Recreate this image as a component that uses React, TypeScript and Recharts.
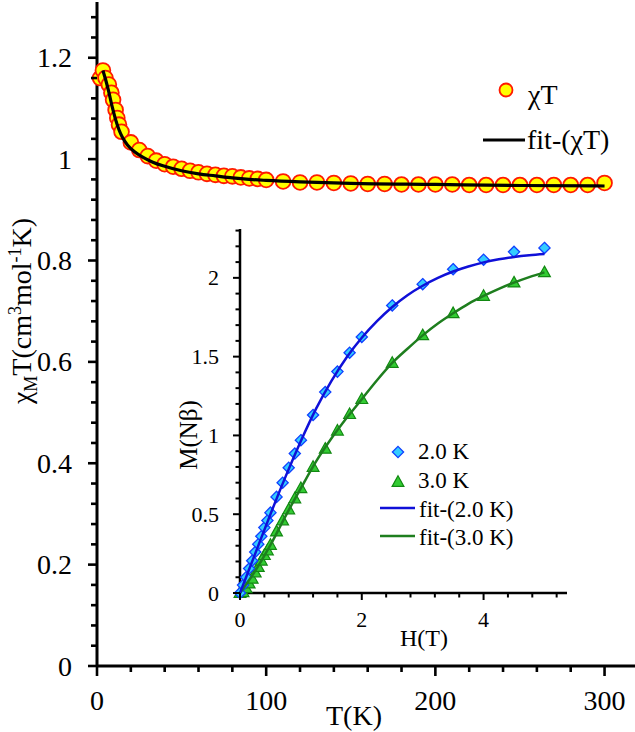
import React from "react";
import { ComposedChart, Scatter, XAxis, YAxis } from "recharts";

const FONT = "'Liberation Serif', 'Times New Roman', serif";

// ---- Main panel: chi_M T vs T ----
const chiT_T = [1.8, 3.5, 5, 7, 8.5, 9.5, 11, 12, 13, 14.5, 20, 25, 30, 35, 40, 45, 50, 55, 60, 65, 70, 75, 80, 85, 90, 95, 100,
  110, 120, 130, 140, 150, 160, 170, 180, 190, 200, 210, 220, 230, 240, 250, 260, 270, 280, 290, 300];
const chiT_vals = [1.160, 1.175, 1.160, 1.147, 1.131, 1.117, 1.097, 1.081, 1.068, 1.054, 1.033, 1.018, 1.006, 0.997, 0.990, 0.985,
  0.981, 0.977, 0.974, 0.971, 0.969, 0.967, 0.966, 0.964, 0.962, 0.961, 0.959,
  0.956, 0.954, 0.954, 0.953, 0.952, 0.951, 0.951, 0.950, 0.950, 0.950, 0.950, 0.949, 0.949, 0.949, 0.949, 0.949, 0.949, 0.949, 0.949, 0.953];
const fitChi_T = [3.5, 5, 7, 9, 11, 13, 15, 18, 22, 27, 33, 40, 50, 60, 70, 80, 90, 100, 120, 150, 200, 250, 300];
const fitChi_vals = [1.175, 1.158, 1.132, 1.103, 1.078, 1.058, 1.043, 1.028, 1.015, 1.004, 0.994, 0.986, 0.977, 0.971, 0.967, 0.963,
  0.960, 0.958, 0.955, 0.952, 0.950, 0.948, 0.947];
const mainXTicks = [0, 20, 40, 60, 80, 100, 120, 140, 160, 180, 200, 220, 240, 260, 280, 300];
const mainYTicks = [0, 4, 8, 12, 16, 20, 24, 28, 32, 36, 40, 44, 48, 52, 56, 60, 64, 68, 72, 76, 80, 84, 88, 92, 96, 100, 104, 108, 112, 116, 120, 124, 128].map((v) => v / 100);

// ---- Inset: M vs H ----
const magH = [0, 0.05, 0.1, 0.15, 0.2, 0.25, 0.3, 0.35, 0.4, 0.45, 0.5, 0.6, 0.7, 0.8, 0.9, 1.0, 1.2, 1.4, 1.6, 1.8, 2.0, 2.5, 3, 3.5, 4, 4.5, 5];
const mag2K = [0.0, 0.05, 0.1, 0.155, 0.205, 0.26, 0.31, 0.36, 0.415, 0.46, 0.51, 0.61, 0.70, 0.795, 0.885, 0.97, 1.13, 1.275, 1.405, 1.525, 1.625, 1.825, 1.96, 2.055, 2.115, 2.165, 2.19];
const mag3K = [0.0, 0.005, 0.03, 0.06, 0.09, 0.13, 0.165, 0.205, 0.24, 0.27, 0.305, 0.39, 0.46, 0.53, 0.6, 0.665, 0.80, 0.915, 1.03, 1.135, 1.23, 1.46, 1.635, 1.775, 1.885, 1.97, 2.035];
const fitH = [0, 0.25, 0.5, 0.75, 1, 1.25, 1.5, 1.75, 2, 2.25, 2.5, 2.75, 3, 3.25, 3.5, 3.75, 4, 4.25, 4.5, 4.75, 5];
const fit2K = [0, 0.25, 0.5, 0.74, 0.965, 1.17, 1.345, 1.495, 1.62, 1.725, 1.815, 1.89, 1.95, 2.0, 2.04, 2.072, 2.098, 2.118, 2.133, 2.144, 2.152];
const fit3K = [0, 0.14, 0.305, 0.49, 0.665, 0.835, 0.98, 1.11, 1.23, 1.35, 1.46, 1.55, 1.635, 1.71, 1.775, 1.835, 1.885, 1.93, 1.97, 2.005, 2.035];
const insetXTicks = [0, 0.4, 0.8, 1.2, 1.6, 2, 2.4, 2.8, 3.2, 3.6, 4, 4.4, 4.8, 5.2];
const insetYTicks = [0, 1, 2, 3, 4, 5, 6, 7, 8, 9, 10, 11, 12, 13, 14, 15, 16, 17, 18, 19, 20, 21, 22, 23].map((v) => v / 10);

const chiPoints = chiT_T.map((t, i) => ({ x: t, y: chiT_vals[i] }));
const chiFit = fitChi_T.map((t, i) => ({ x: t, y: fitChi_vals[i] }));
const m2Points = magH.map((h, i) => ({ x: h, y: mag2K[i] }));
const m3Points = magH.map((h, i) => ({ x: h, y: mag3K[i] }));
const m2Fit = fitH.map((h, i) => ({ x: h, y: fit2K[i] }));
const m3Fit = fitH.map((h, i) => ({ x: h, y: fit3K[i] }));

const YELLOW = "#FFFF00";
const RED = "#FF1A00";
const CYAN = "#33CCFF";
const BLUE_EDGE = "#1040FF";
const BLUE_LINE = "#1010D8";
const GREEN_FILL = "#33CC33";
const GREEN_EDGE = "#128812";
const GREEN_LINE = "#1E7E1E";

const fmt = (v: number) => String(Math.round(v * 100) / 100);

const MainXTick = (props: any) => {
  const { x, y, payload } = props;
  const v = payload.value;
  const major = v % 100 === 0;
  return (
    <g>
      <line x1={x} y1={y} x2={x} y2={y + (major ? 10 : 6)} stroke="#000" strokeWidth={2.6} />
      {major && (
        <text x={x} y={y + 44} textAnchor="middle" fontSize={28} fontFamily={FONT} fill="#000">
          {v}
        </text>
      )}
    </g>
  );
};

const MainYTick = (props: any) => {
  const { x, y, payload } = props;
  const v = payload.value;
  const major = Math.round(v * 100) % 20 === 0;
  return (
    <g>
      <line x1={x} y1={y} x2={x - (major ? 9 : 6)} y2={y} stroke="#000" strokeWidth={2.6} />
      {major && (
        <text x={x - 25} y={y + 9.5} textAnchor="end" fontSize={28} fontFamily={FONT} fill="#000">
          {fmt(v)}
        </text>
      )}
    </g>
  );
};

const InsetXTick = (props: any) => {
  const { x, y, payload } = props;
  const v = payload.value;
  const major = Math.round(v * 10) % 20 === 0;
  return (
    <g>
      <line x1={x} y1={y} x2={x} y2={y + (major ? 7 : 4.5)} stroke="#000" strokeWidth={2} />
      {major && (
        <text x={x} y={y + 34} textAnchor="middle" fontSize={22} fontFamily={FONT} fill="#000">
          {fmt(v)}
        </text>
      )}
    </g>
  );
};

const InsetYTick = (props: any) => {
  const { x, y, payload } = props;
  const v = payload.value;
  const major = Math.round(v * 10) % 5 === 0;
  return (
    <g>
      <line x1={x} y1={y} x2={x - (major ? 7 : 4.5)} y2={y} stroke="#000" strokeWidth={2} />
      {major && (
        <text x={x - 21} y={y + 7.5} textAnchor="end" fontSize={22} fontFamily={FONT} fill="#000">
          {fmt(v)}
        </text>
      )}
    </g>
  );
};

const NoShape = () => <g />;

const Circle = (props: any) => {
  const { cx, cy } = props;
  if (cx == null || cy == null) return <g />;
  return <circle cx={cx} cy={cy} r={7.4} fill={YELLOW} stroke={RED} strokeWidth={1.8} />;
};

const Diamond = (props: any) => {
  const { cx, cy } = props;
  if (cx == null || cy == null) return <g />;
  const s = 5.6;
  return (
    <path d={`M${cx},${cy - s}L${cx + s},${cy}L${cx},${cy + s}L${cx - s},${cy}Z`} fill={CYAN} stroke={BLUE_EDGE} strokeWidth={1.3} />
  );
};

const Triangle = (props: any) => {
  const { cx, cy } = props;
  if (cx == null || cy == null) return <g />;
  const s = 6.2;
  return (
    <path d={`M${cx},${cy - s}L${cx + s * 0.95},${cy + s * 0.7}L${cx - s * 0.95},${cy + s * 0.7}Z`} fill={GREEN_FILL} stroke={GREEN_EDGE} strokeWidth={1.2} />
  );
};

const MainLegend = () => (
  <svg width={165} height={95} style={{ display: "block", overflow: "visible" }}>
    <circle cx={36} cy={20} r={6.5} fill={YELLOW} stroke={RED} strokeWidth={1.8} />
    <text x={58} y={34} fontSize={28} fontFamily={FONT} fill="#000">χT</text>
    <line x1={13} y1={70} x2={55} y2={70} stroke="#000" strokeWidth={3} />
    <text x={57} y={79} fontSize={28} fontFamily={FONT} fill="#000">fit-(χT)</text>
  </svg>
);

const InsetLegend = () => (
  <svg width={200} height={125} style={{ display: "block", overflow: "visible" }}>
    <Diamond cx={28} cy={22} />
    <text x={48} y={29} fontSize={23} fontFamily={FONT} fill="#000">2.0 K</text>
    <Triangle cx={28} cy={52} />
    <text x={48} y={58} fontSize={23} fontFamily={FONT} fill="#000">3.0 K</text>
    <line x1={10} y1={78} x2={45} y2={78} stroke={BLUE_LINE} strokeWidth={2.5} />
    <text x={49} y={87} fontSize={23} fontFamily={FONT} fill="#000">fit-(2.0 K)</text>
    <line x1={10} y1={106} x2={45} y2={106} stroke={GREEN_LINE} strokeWidth={2.5} />
    <text x={49} y={115} fontSize={23} fontFamily={FONT} fill="#000">fit-(3.0 K)</text>
  </svg>
);

const MainYLabel = () => (
  <text transform="translate(31,311) rotate(-90)" textAnchor="middle" fontSize={28} fontFamily={FONT} fill="#000">
    <tspan>χ</tspan>
    <tspan fontSize={18} dy={6}>M</tspan>
    <tspan dy={-6}>T(cm</tspan>
    <tspan fontSize={18} dy={-10}>3</tspan>
    <tspan dy={10}>mol</tspan>
    <tspan fontSize={18} dy={-10}>-1</tspan>
    <tspan dy={10}>K)</tspan>
  </text>
);

const MainXLabel = () => (
  <text x={354} y={725} textAnchor="middle" fontSize={28} fontFamily={FONT} fill="#000">T(K)</text>
);

const InsetYLabel = () => (
  <text transform="translate(197,435) rotate(-90)" textAnchor="middle" fontSize={25} fontFamily={FONT} fill="#000">M(Nβ)</text>
);

const InsetXLabel = () => (
  <text x={424} y={646} textAnchor="middle" fontSize={24} fontFamily={FONT} fill="#000">H(T)</text>
);

export default function App() {
  return (
    <div style={{ position: "absolute", left: 0, top: 0, width: 635, height: 732, background: "#fff" }}>
      <div style={{ position: "absolute", left: 0, top: 0 }}>
        <ComposedChart width={635} height={732} margin={{ top: 2, right: 0, bottom: 0, left: 0 }}>
          <XAxis
            type="number"
            dataKey="x"
            domain={[0, 318]}
            ticks={mainXTicks}
            interval={0}
            height={66}
            tickSize={0}
            tickMargin={0}
            tick={<MainXTick />}
            axisLine={{ stroke: "#000", strokeWidth: 3 }}
            tickLine={false}
            label={<MainXLabel />}
          />
          <YAxis
            type="number"
            dataKey="y"
            domain={[0, 1.31]}
            ticks={mainYTicks}
            interval={0}
            width={97}
            tickSize={0}
            tickMargin={0}
            tick={<MainYTick />}
            axisLine={{ stroke: "#000", strokeWidth: 3 }}
            tickLine={false}
            label={<MainYLabel />}
          />
          <Scatter data={chiPoints} dataKey="y" shape={<Circle />} isAnimationActive={false} />
          <Scatter
            data={chiFit}
            dataKey="y"
            shape={<NoShape />}
            line={{ stroke: "#000", strokeWidth: 3.2 }}
            lineJointType="monotoneX"
            isAnimationActive={false}
          />
        </ComposedChart>
      </div>
      <div style={{ position: "absolute", left: 0, top: 0 }}>
        <ComposedChart width={635} height={732} margin={{ top: 229, right: 68, bottom: 99, left: 180 }}>
          <XAxis
            type="number"
            dataKey="x"
            domain={[0, 5.37]}
            ticks={insetXTicks}
            interval={0}
            height={40}
            tickSize={0}
            tickMargin={0}
            tick={<InsetXTick />}
            axisLine={{ stroke: "#000", strokeWidth: 2.5 }}
            tickLine={false}
            label={<InsetXLabel />}
          />
          <YAxis
            type="number"
            dataKey="y"
            domain={[0, 2.31]}
            ticks={insetYTicks}
            interval={0}
            width={60}
            tickSize={0}
            tickMargin={0}
            tick={<InsetYTick />}
            axisLine={{ stroke: "#000", strokeWidth: 2.5 }}
            tickLine={false}
            label={<InsetYLabel />}
          />
          <Scatter data={m3Points} dataKey="y" shape={<Triangle />} isAnimationActive={false} />
          <Scatter data={m2Points} dataKey="y" shape={<Diamond />} isAnimationActive={false} />
          <Scatter
            data={m3Fit}
            dataKey="y"
            shape={<NoShape />}
            line={{ stroke: GREEN_LINE, strokeWidth: 2.5 }}
            lineJointType="monotoneX"
            isAnimationActive={false}
          />
          <Scatter
            data={m2Fit}
            dataKey="y"
            shape={<NoShape />}
            line={{ stroke: BLUE_LINE, strokeWidth: 2.5 }}
            lineJointType="monotoneX"
            isAnimationActive={false}
          />
        </ComposedChart>
      </div>
      <div style={{ position: "absolute", left: 470, top: 70 }}>
        <MainLegend />
      </div>
      <div style={{ position: "absolute", left: 370, top: 430 }}>
        <InsetLegend />
      </div>
    </div>
  );
}
